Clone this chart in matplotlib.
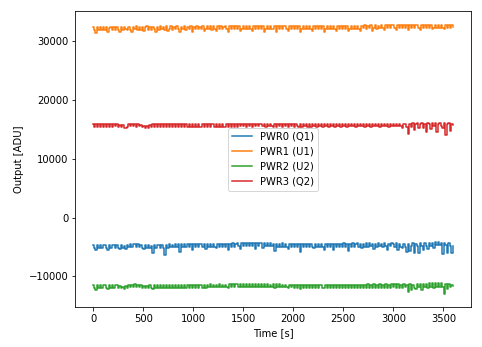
import numpy as np
import matplotlib
matplotlib.use("Agg")
import matplotlib.pyplot as plt

# samples every 15 s over one hour, one row per 2 minutes
time_s = np.arange(0, 3601, 15)

pwr0_q1 = [
    -4600, -5100, -5600, -4600, -5100, -4600, -5100, -4650,
    -4600, -5100, -5450, -4600, -5100, -4650, -4600, -5100,
    -4650, -5100, -5350, -4700, -5100, -4900, -5300, -4750,
    -4950, -4500, -5050, -4550, -4450, -4950, -4500, -4950,
    -4700, -5150, -5300, -4700, -5150, -4700, -5250, -4800,
    -6000, -4700, -5200, -4700, -4600, -5100, -4650, -5100,
    -6300, -4650, -5100, -4550, -5050, -4600, -5050, -4550,
    -5050, -4550, -5900, -4550, -5000, -4500, -5000, -4550,
    -5000, -4500, -5500, -4550, -5000, -4500, -5000, -4550,
    -4500, -5000, -4500, -5400, -4500, -5000, -4450, -4950,
    -4500, -4950, -5100, -4450, -4950, -4500, -5000, -4450,
    -4950, -4450, -5450, -4450, -4950, -4400, -4950, -4450,
    -4400, -4900, -5350, -4350, -4850, -4400, -4900, -4350,
    -4850, -4350, -4900, -4400, -5300, -4400, -4850, -4350,
    -4400, -5250, -4400, -4900, -4400, -4900, -4400, -4900,
    -4450, -5700, -4450, -4950, -4450, -4950, -4400, -4950,
    -4450, -4950, -5350, -4500, -5000, -4450, -4950, -4450,
    -5000, -4500, -5850, -4500, -5000, -4450, -4950, -4450,
    -4950, -4450, -5000, -5250, -4500, -5000, -4450, -4950,
    -4500, -4950, -5550, -4450, -4950, -4450, -4950, -4450,
    -5450, -4450, -4950, -4450, -4950, -4450, -4950, -4400,
    -4950, -4450, -5750, -4450, -4950, -4400, -4950, -4450,
    -4400, -4950, -4450, -5250, -4450, -4950, -4400, -4950,
    -4400, -4900, -4450, -5350, -4450, -4950, -4400, -4900,
    -4450, -4950, -4400, -4900, -5450, -4450, -4900, -4400,
    -4450, -4950, -4400, -5550, -4450, -4950, -5250, -4450,
    -4950, -5850, -4450, -5650, -4900, -4400, -5950, -4450,
    -4900, -6050, -4400, -4900, -5550, -4350, -4900, -5350,
    -4350, -4850, -4300, -5250, -4200, -4750, -4150, -4700,
    -4250, -6150, -4300, -4700, -6050, -4350, -4850, -5950,
    -4850,
]

pwr1_u1 = [
    32450, 31950, 31400, 32400, 31950, 32450, 32000, 32400,
    31950, 32450, 31550, 32350, 32500, 31950, 32400, 32000,
    32450, 31950, 31600, 32450, 32000, 32500, 32050, 31950,
    32500, 32000, 31650, 32450, 32050, 32550, 32000, 32450,
    32000, 32500, 31700, 32450, 32550, 32000, 32450, 31950,
    32500, 32050, 31650, 32450, 31950, 32550, 32050, 32500,
    32000, 32550, 31750, 32050, 32550, 32000, 32500, 32050,
    32550, 32050, 31600, 32500, 32050, 32550, 32000, 32500,
    32050, 32550, 31550, 32500, 32050, 32600, 32100, 32500,
    32050, 32550, 31800, 32050, 32550, 32100, 32550, 32000,
    32550, 32050, 31700, 32550, 32050, 32600, 32100, 32500,
    32550, 32050, 31600, 32600, 32100, 32550, 32050, 32600,
    32100, 32600, 31750, 32100, 32600, 32100, 32600, 32100,
    32600, 32100, 31750, 32600, 32100, 32550, 32150, 32600,
    32100, 32600, 31650, 32100, 32600, 32100, 32600, 32150,
    32100, 32600, 31600, 32600, 32100, 32600, 32100, 32600,
    32600, 32100, 31700, 32600, 32100, 32600, 32100, 32550,
    32100, 32600, 31600, 32150, 32600, 32100, 32650, 32100,
    32600, 32150, 31750, 32650, 32100, 32600, 32150, 32650,
    32100, 32600, 31650, 32150, 32650, 32100, 32600, 32150,
    32650, 32150, 31700, 32600, 32150, 32650, 32150, 32600,
    32150, 32650, 31750, 32150, 32650, 32150, 32650, 32150,
    32650, 32150, 31800, 32650, 32200, 32700, 32150, 32650,
    32200, 32700, 31800, 32200, 32700, 32150, 32650, 32200,
    32700, 32200, 31850, 32700, 32200, 32700, 32200, 32700,
    32700, 32200, 31900, 32700, 32250, 32750, 32200, 32700,
    32250, 32750, 31950, 32750, 32250, 32750, 32250, 32700,
    32750, 32250, 32000, 32750, 32250, 32800, 32250, 32750,
    32250, 32750, 32050, 32250, 32800, 32250, 32750, 32300,
    32750, 32250, 32100, 32750, 32300, 32800, 32250, 32700,
    32450,
]

pwr2_u2 = [
    -11500, -11950, -12350, -11500, -11950, -11450, -11950, -11450,
    -11500, -12000, -12100, -11500, -12000, -11450, -11950, -11500,
    -11450, -11950, -11600, -12050, -11750, -12100, -11650, -11950,
    -11450, -11800, -11450, -11800, -11350, -11850, -11400, -11900,
    -11450, -11950, -11650, -12000, -11700, -12000, -11500, -12000,
    -12150, -11500, -12000, -11450, -11950, -11500, -12000, -11450,
    -11950, -11500, -11950, -11450, -11950, -11450, -11950, -11500,
    -11950, -11450, -12050, -11450, -11950, -11400, -11950, -11450,
    -11950, -11400, -12050, -11450, -11950, -11400, -11950, -11450,
    -11400, -11950, -11400, -11950, -11450, -11900, -11350, -11900,
    -11450, -11900, -11400, -11900, -11350, -11900, -11400, -11900,
    -11400, -11900, -12050, -11350, -11900, -11300, -11850, -11350,
    -11300, -11800, -11350, -11850, -11250, -11800, -11250, -11800,
    -11250, -11800, -11300, -11800, -11250, -11800, -11300, -11800,
    -11300, -11800, -11250, -11800, -11350, -11850, -11400, -11850,
    -11350, -12000, -11350, -11850, -11350, -11850, -11400, -11900,
    -11400, -11900, -11950, -11400, -11900, -11450, -11950, -11400,
    -11950, -11450, -12100, -11450, -11950, -11400, -11950, -11450,
    -11950, -11450, -11950, -11400, -12000, -11450, -11950, -11450,
    -11450, -11950, -12050, -11400, -11950, -11450, -11950, -11400,
    -11950, -11450, -11950, -11400, -11950, -11450, -11950, -11450,
    -11950, -11400, -12050, -11400, -11950, -11400, -11950, -11450,
    -11950, -11400, -11950, -11400, -12000, -11450, -11950, -11350,
    -11950, -11400, -11950, -11350, -12000, -11400, -11950, -11350,
    -11950, -11400, -11950, -11350, -12000, -11400, -11950, -11350,
    -11900, -11350, -11950, -11350, -12050, -11400, -11950, -11350,
    -11900, -11400, -12750, -11350, -12350, -11400, -11950, -12150,
    -11350, -11900, -11300, -12250, -11250, -11850, -11250, -12000,
    -11200, -11800, -11200, -12050, -11150, -11750, -11150, -11850,
    -11150, -11750, -12950, -11250, -12150, -11300, -11900, -11400,
    -11700,
]

pwr3_q2 = [
    15900, 15500, 15850, 15500, 15900, 15450, 15850, 15500,
    15900, 15450, 15850, 15500, 15900, 15450, 15850, 15550,
    15850, 15500, 15800, 15450, 15700, 15300, 15250, 15400,
    15850, 15550, 15950, 15600, 15950, 15500, 15900, 15550,
    15700, 15350, 15600, 15300, 15550, 15300, 15700, 15400,
    15850, 15400, 15850, 15450, 15850, 15400, 15900, 15450,
    15900, 15450, 15850, 15500, 15900, 15450, 15850, 15500,
    15900, 15400, 15850, 15500, 15900, 15500, 15850, 15450,
    15900, 15500, 15850, 15450, 15950, 15500, 15950, 15500,
    15500, 15900, 15450, 15950, 15500, 15950, 15500, 15900,
    15950, 15500, 15900, 15450, 15950, 15500, 15950, 15500,
    15500, 15950, 15400, 15950, 15500, 15950, 15500, 15950,
    15500, 15950, 15550, 16000, 15550, 15950, 15500, 16000,
    15550, 16000, 15500, 16000, 15550, 15950, 15550, 16000,
    16000, 15550, 15950, 15500, 16000, 15550, 15950, 15550,
    15450, 15950, 15500, 15950, 15550, 15950, 15500, 15950,
    15550, 15950, 15500, 15950, 15550, 15950, 15500, 15950,
    15550, 15400, 15950, 15500, 15950, 15550, 15950, 15500,
    15950, 15500, 15950, 15550, 15950, 15500, 15950, 15550,
    15950, 15450, 15950, 15550, 15950, 15500, 15950, 15550,
    15950, 15500, 15950, 15550, 15950, 15500, 15950, 15550,
    15950, 15450, 15950, 15550, 16000, 15550, 15950, 15500,
    16000, 15550, 16000, 15550, 15950, 15500, 16000, 15550,
    15950, 15500, 16000, 15550, 15950, 15550, 16000, 15500,
    15950, 15550, 16000, 15550, 15950, 15500, 16000, 15550,
    16000, 15550, 15950, 15550, 16000, 15550, 15300, 15950,
    16000, 15500, 14200, 15950, 15400, 16050, 14900, 15900,
    16050, 15200, 15950, 16100, 15300, 16000, 14600, 16050,
    15950, 15100, 16050, 15600, 16100, 14500, 16000, 16100,
    15600, 15200, 16050, 14100, 15950, 16100, 14700, 16000,
    15700,
]

labels = ["PWR0 (Q1)", "PWR1 (U1)", "PWR2 (U2)", "PWR3 (Q2)"]

fig = plt.figure(figsize=(482 / 72, 347 / 72), dpi=72)
ax = fig.add_axes([0.156, 0.115, 0.822, 0.852])

# step drawing keeps the densely sampled traces as solid bands
for series, label in zip([pwr0_q1, pwr1_u1, pwr2_u2, pwr3_q2], labels):
    ax.plot(time_s, series, label=label, drawstyle="steps-mid")

ax.set_xlabel("Time [s]")
ax.set_ylabel("Output [ADU]")
ax.legend(loc="center")

fig.savefig("out.png", dpi=72)
